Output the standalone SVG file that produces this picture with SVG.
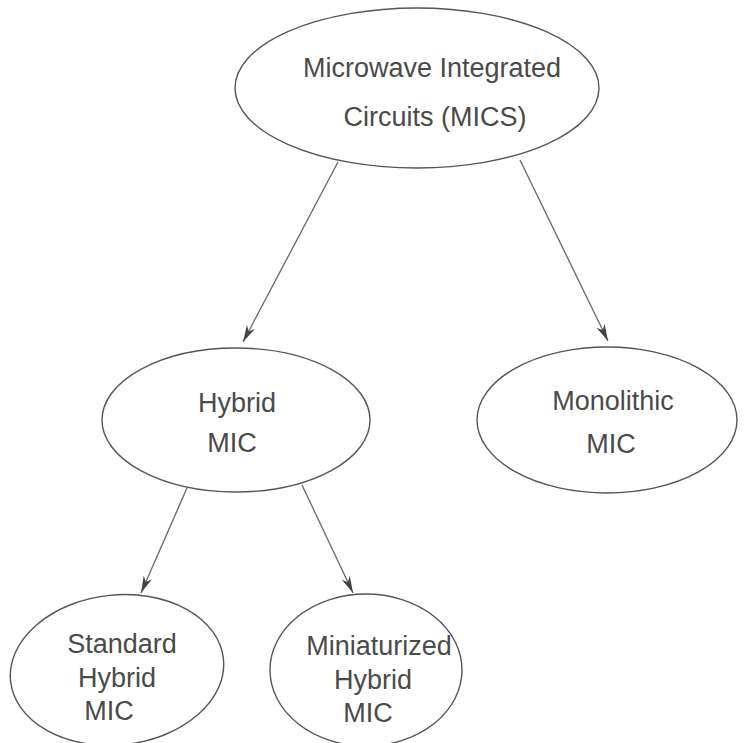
<svg xmlns="http://www.w3.org/2000/svg" width="744" height="743" viewBox="0 0 744 743">
<style>
.node ellipse{fill:#fff;stroke:#555;stroke-width:1.4}
.node text{font-family:"Liberation Sans",Arial,sans-serif;font-size:27px;fill:#4a4a4a;text-anchor:middle}
.edges line{stroke:#666;stroke-width:1.3;marker-end:url(#arr)}
</style>
<defs>
<marker id="arr" markerWidth="18" markerHeight="10" refX="17" refY="5" orient="auto" markerUnits="userSpaceOnUse">
<path d="M0,0.5 L17,5 L0,9.5 L5,5 z" fill="#444"/>
</marker>
</defs>
<rect width="744" height="743" fill="#fff"/>
<g id="mics" class="node">
<ellipse cx="417" cy="88" rx="182" ry="80"/>
<text x="432" y="77">Microwave Integrated</text>
<text x="435" y="126">Circuits (MICS)</text>
</g>
<g id="hybrid" class="node">
<ellipse cx="236" cy="420" rx="134" ry="72"/>
<text x="237" y="412">Hybrid</text>
<text x="232" y="452">MIC</text>
</g>
<g id="monolithic" class="node">
<ellipse cx="607" cy="420" rx="130" ry="73"/>
<text x="613" y="410">Monolithic</text>
<text x="611" y="453">MIC</text>
</g>
<g id="standard" class="node">
<ellipse cx="117" cy="670" rx="107" ry="75" transform="rotate(-6 117 670)"/>
<text x="122" y="653">Standard</text>
<text x="117" y="687">Hybrid</text>
<text x="109" y="720">MIC</text>
</g>
<g id="miniaturized" class="node">
<ellipse cx="366" cy="670" rx="96" ry="76"/>
<text x="379" y="655">Miniaturized</text>
<text x="373" y="689">Hybrid</text>
<text x="368" y="722">MIC</text>
</g>
<g id="edges" class="edges">
<line x1="338" y1="162" x2="243" y2="342"/>
<line x1="520" y1="160" x2="608" y2="341"/>
<line x1="187" y1="488" x2="141" y2="593"/>
<line x1="302" y1="485" x2="353" y2="593"/>
</g>
</svg>
